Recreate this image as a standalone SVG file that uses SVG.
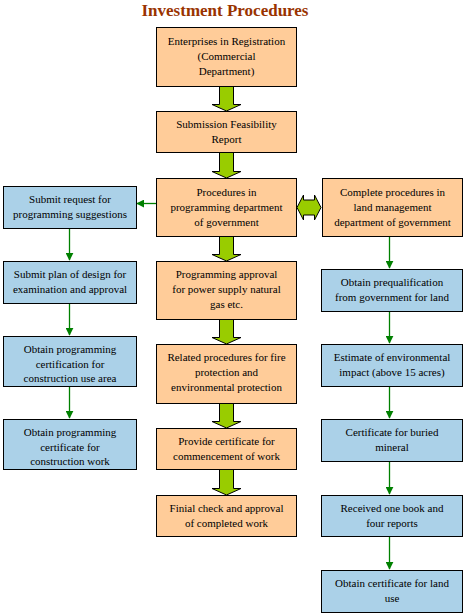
<svg xmlns="http://www.w3.org/2000/svg" width="466" height="615" viewBox="0 0 466 615">
<style>
.o{fill:#FFCC99;stroke:#000;stroke-width:1}
.b{fill:#ABD1E8;stroke:#000;stroke-width:1}
.t{font-family:"Liberation Serif","Times New Roman",serif;font-size:11px;fill:#000;text-anchor:middle}
.ttl{font-family:"Liberation Serif","Times New Roman",serif;font-size:17px;font-weight:bold;fill:#993300;text-anchor:middle}
.fat{fill:#99CC00;stroke:#000;stroke-width:1}
.thin{stroke:#008000;stroke-width:1.3;fill:none}
</style>
<defs>
<marker id="ah" viewBox="0 0 10 10" refX="9" refY="5" markerWidth="8" markerHeight="8" markerUnits="userSpaceOnUse" orient="auto">
<path d="M0,0 L10,5 L0,10 Z" fill="#008000"/>
</marker>
</defs>
<rect width="466" height="615" fill="#fff"/>
<text class="ttl" x="225" y="16">Investment Procedures</text>

<g id="connectors">
<path class="fat" d="M219.5,86.5 H233.5 V104.5 H241 L226.5,111 L212,104.5 H219.5 Z"/>
<path class="fat" d="M219.5,152.5 H233.5 V171.5 H241 L226.5,178 L212,171.5 H219.5 Z"/>
<path class="fat" d="M219.5,236.5 H233.5 V254.5 H241 L226.5,261 L212,254.5 H219.5 Z"/>
<path class="fat" d="M219.5,319.5 H233.5 V337.5 H241 L226.5,344 L212,337.5 H219.5 Z"/>
<path class="fat" d="M219.5,403.5 H233.5 V421.5 H241 L226.5,428 L212,421.5 H219.5 Z"/>
<path class="fat" d="M219.5,469.5 H233.5 V488.5 H241 L226.5,495 L212,488.5 H219.5 Z"/>
<path class="fat" d="M297,207.5 L303.5,195 V200 H314.5 V195 L321,207.5 L314.5,220 V215 H303.5 V220 Z"/>
<line class="thin" x1="156" y1="203.5" x2="137" y2="203.5" marker-end="url(#ah)"/>
<line class="thin" x1="69.5" y1="228" x2="69.5" y2="260" marker-end="url(#ah)"/>
<line class="thin" x1="69.5" y1="303" x2="69.5" y2="335" marker-end="url(#ah)"/>
<line class="thin" x1="69.5" y1="386" x2="69.5" y2="418" marker-end="url(#ah)"/>
<line class="thin" x1="389.5" y1="236" x2="389.5" y2="268" marker-end="url(#ah)"/>
<line class="thin" x1="389.5" y1="311" x2="389.5" y2="343" marker-end="url(#ah)"/>
<line class="thin" x1="389.5" y1="386" x2="389.5" y2="418" marker-end="url(#ah)"/>
<line class="thin" x1="389.5" y1="461" x2="389.5" y2="494" marker-end="url(#ah)"/>
<line class="thin" x1="389.5" y1="536" x2="389.5" y2="569" marker-end="url(#ah)"/>
</g>

<g id="n1"><rect class="o" x="156.5" y="27.5" width="140" height="59"/>
<text class="t" x="226.5" y="45">Enterprises in Registration</text><text class="t" x="226.5" y="60">(Commercial</text><text class="t" x="226.5" y="75">Department)</text></g>
<g id="n2"><rect class="o" x="156.5" y="111.5" width="140" height="41"/>
<text class="t" x="226.5" y="128">Submission Feasibility</text><text class="t" x="226.5" y="143">Report</text></g>
<g id="n3"><rect class="o" x="156.5" y="178.5" width="140" height="58"/>
<text class="t" x="226.5" y="196">Procedures in</text><text class="t" x="226.5" y="211">programming department</text><text class="t" x="226.5" y="226">of government</text></g>
<g id="n4"><rect class="o" x="156.5" y="261.5" width="140" height="58"/>
<text class="t" x="226.5" y="278">Programming approval</text><text class="t" x="226.5" y="293">for power supply natural</text><text class="t" x="226.5" y="308">gas etc.</text></g>
<g id="n5"><rect class="o" x="156.5" y="344.5" width="140" height="59"/>
<text class="t" x="226.5" y="361">Related procedures for fire</text><text class="t" x="226.5" y="376">protection and</text><text class="t" x="226.5" y="391">environmental protection</text></g>
<g id="n6"><rect class="o" x="156.5" y="428.5" width="140" height="41"/>
<text class="t" x="226.5" y="445">Provide certificate for</text><text class="t" x="226.5" y="460">commencement of work</text></g>
<g id="n7"><rect class="o" x="156.5" y="495.5" width="140" height="41"/>
<text class="t" x="226.5" y="512">Finial check and approval</text><text class="t" x="226.5" y="527">of completed work</text></g>

<g id="l1"><rect class="b" x="3.5" y="186.5" width="133" height="42"/>
<text class="t" x="70" y="203">Submit request for</text><text class="t" x="70" y="218">programming suggestions</text></g>
<g id="l2"><rect class="b" x="3.5" y="261.5" width="133" height="42"/>
<text class="t" x="70" y="278">Submit plan of design for</text><text class="t" x="70" y="293">examination and approval</text></g>
<g id="l3"><rect class="b" x="3.5" y="336.5" width="133" height="50"/>
<text class="t" x="70" y="353">Obtain programming</text><text class="t" x="70" y="368">certification for</text><text class="t" x="70" y="382">construction use area</text></g>
<g id="l4"><rect class="b" x="3.5" y="419.5" width="133" height="50"/>
<text class="t" x="70" y="436">Obtain programming</text><text class="t" x="70" y="451">certificate for</text><text class="t" x="70" y="465">construction work</text></g>

<g id="r0"><rect class="o" x="322.5" y="178.5" width="140" height="58"/>
<text class="t" x="392.5" y="196">Complete procedures in</text><text class="t" x="392.5" y="211">land management</text><text class="t" x="392.5" y="226">department of government</text></g>
<g id="r1"><rect class="b" x="321.5" y="269.5" width="141" height="42"/>
<text class="t" x="392" y="286">Obtain prequalification</text><text class="t" x="392" y="301">from government for land</text></g>
<g id="r2"><rect class="b" x="321.5" y="344.5" width="141" height="42"/>
<text class="t" x="392" y="361">Estimate of environmental</text><text class="t" x="392" y="376">impact (above 15 acres)</text></g>
<g id="r3"><rect class="b" x="321.5" y="419.5" width="141" height="42"/>
<text class="t" x="392" y="436">Certificate for buried</text><text class="t" x="392" y="451">mineral</text></g>
<g id="r4"><rect class="b" x="321.5" y="495.5" width="141" height="41"/>
<text class="t" x="392" y="512">Received one book and</text><text class="t" x="392" y="527">four reports</text></g>
<g id="r5"><rect class="b" x="321.5" y="570.5" width="141" height="42"/>
<text class="t" x="392" y="587">Obtain certificate for land</text><text class="t" x="392" y="602">use</text></g>
</svg>
